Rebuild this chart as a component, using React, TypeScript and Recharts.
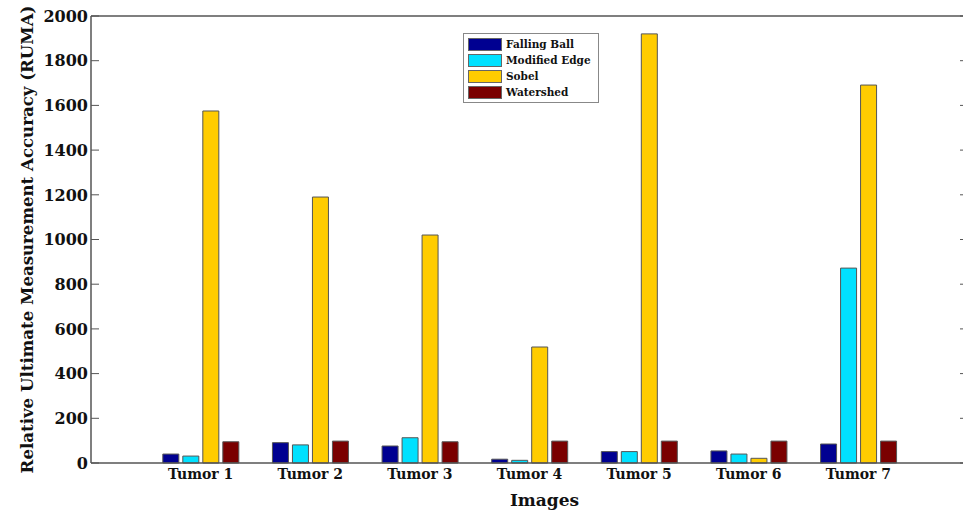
import React from 'react';
import { BarChart, Bar, XAxis, YAxis, ReferenceLine, Legend, Label } from 'recharts';

const categories = ['Tumor 1', 'Tumor 2', 'Tumor 3', 'Tumor 4', 'Tumor 5', 'Tumor 6', 'Tumor 7'];
const fallingBall = [40, 91, 76, 17, 51, 54, 85];
const modifiedEdge = [31, 81, 113, 12, 51, 40, 872];
const sobel = [1575, 1190, 1020, 519, 1920, 21, 1691];
const watershed = [95, 98, 95, 98, 98, 98, 98];
const yTicks = [0, 200, 400, 600, 800, 1000, 1200, 1400, 1600, 1800, 2000];
const xTicks = [1, 2, 3, 4, 5, 6, 7];

const data = categories.map((c, i) => ({
  x: i + 1,
  name: c,
  fb: fallingBall[i],
  me: modifiedEdge[i],
  sobel: sobel[i],
  ws: watershed[i],
}));

const FONT = '"DejaVu Serif", serif';
const AXIS = '#555';
const CHART_W = 963;
const MARGIN = { top: 16, right: -5, bottom: 0, left: 0 };
const Y_AXIS_W = 91;
const PLOT_L = MARGIN.left + Y_AXIS_W;
const PLOT_R = CHART_W - MARGIN.right;
const TICK_LEN = 8;

const YTick = (props: any) => {
  const { x, y, payload } = props;
  return (
    <g>
      <line x1={PLOT_L} x2={PLOT_L + TICK_LEN} y1={y} y2={y} stroke={AXIS} strokeWidth={1} />
      <line x1={PLOT_R - TICK_LEN} x2={PLOT_R} y1={y} y2={y} stroke={AXIS} strokeWidth={1} />
      <text
        x={x}
        y={y}
        dy="0.36em"
        textAnchor="end"
        fontFamily={FONT}
        fontWeight="bold"
        fontSize={16}
        fill="#111"
      >
        {payload.value}
      </text>
    </g>
  );
};

const LegendBox = (props: any) => {
  const payload = props.payload || [];
  return (
    <div
      style={{
        border: '1px solid #888',
        background: '#fff',
        padding: '2px 4px 2px 4px',
        width: 126,
        fontFamily: FONT,
        fontWeight: 'bold',
        fontSize: 10.5,
        color: '#111',
      }}
    >
      {payload.map((p: any) => (
        <div key={p.value} style={{ display: 'flex', alignItems: 'center', height: 16 }}>
          <span
            style={{
              display: 'inline-block',
              width: 32,
              height: 11,
              background: p.color,
              border: '1px solid #666',
              marginRight: 4,
            }}
          />
          <span>{p.value}</span>
        </div>
      ))}
    </div>
  );
};

export default function App() {
  return (
    <div style={{ position: 'absolute', left: 0, top: 0, width: 963, height: 512, overflow: 'hidden', background: '#fff' }}>
      <BarChart
        width={CHART_W}
        height={512}
        data={data}
        margin={MARGIN}
        barSize={16}
        barGap={4}
        style={{ overflow: 'hidden' }}
      >
        <XAxis
          dataKey="x"
          type="number"
          domain={[0, 8]}
          ticks={xTicks}
          tickFormatter={(v: number) => categories[v - 1]}
          tickLine={false}
          tickSize={0}
          tickMargin={6}
          height={49}
          axisLine={{ stroke: AXIS, strokeWidth: 1.5 }}
          tick={{ fill: '#111', fontFamily: FONT, fontWeight: 'bold', fontSize: 14 }}
        >
          <Label
            content={(p: any) => {
              const vb = p.viewBox;
              return (
                <text
                  x={vb.x + vb.width / 2 + 15}
                  y={vb.y + 43}
                  textAnchor="middle"
                  fontFamily={FONT}
                  fontWeight="bold"
                  fontSize={17}
                  fill="#111"
                >
                  Images
                </text>
              );
            }}
          />
        </XAxis>
        <YAxis
          yAxisId="main"
          domain={[0, 2000]}
          ticks={yTicks}
          width={Y_AXIS_W}
          tickLine={false}
          tickSize={0}
          tickMargin={3}
          axisLine={{ stroke: AXIS, strokeWidth: 1.5 }}
          tick={<YTick />}
        >
          <Label
            content={(p: any) => {
              const vb = p.viewBox;
              const cy = vb.y + vb.height / 2;
              return (
                <text
                  x={33}
                  y={cy}
                  transform={`rotate(-90, 33, ${cy})`}
                  textAnchor="middle"
                  fontFamily={FONT}
                  fontWeight="bold"
                  fontSize={16.6}
                  fill="#111"
                >
                  Relative Ultimate Measurement Accuracy (RUMA)
                </text>
              );
            }}
          />
        </YAxis>
        <ReferenceLine yAxisId="main" y={2000} stroke={AXIS} strokeWidth={1.5} />
        <Legend
          layout="vertical"
          align="center"
          verticalAlign="middle"
          content={<LegendBox />}
          wrapperStyle={{ left: 463, top: 33, width: 'auto' }}
        />
        <Bar yAxisId="main" dataKey="fb" name="Falling Ball" fill="#000091" stroke="#555" strokeWidth={1} isAnimationActive={false} />
        <Bar yAxisId="main" dataKey="me" name="Modified Edge" fill="#00E1FF" stroke="#555" strokeWidth={1} isAnimationActive={false} />
        <Bar yAxisId="main" dataKey="sobel" name="Sobel" fill="#FFCC00" stroke="#555" strokeWidth={1} isAnimationActive={false} />
        <Bar yAxisId="main" dataKey="ws" name="Watershed" fill="#7A0000" stroke="#555" strokeWidth={1} isAnimationActive={false} />
      </BarChart>
    </div>
  );
}
